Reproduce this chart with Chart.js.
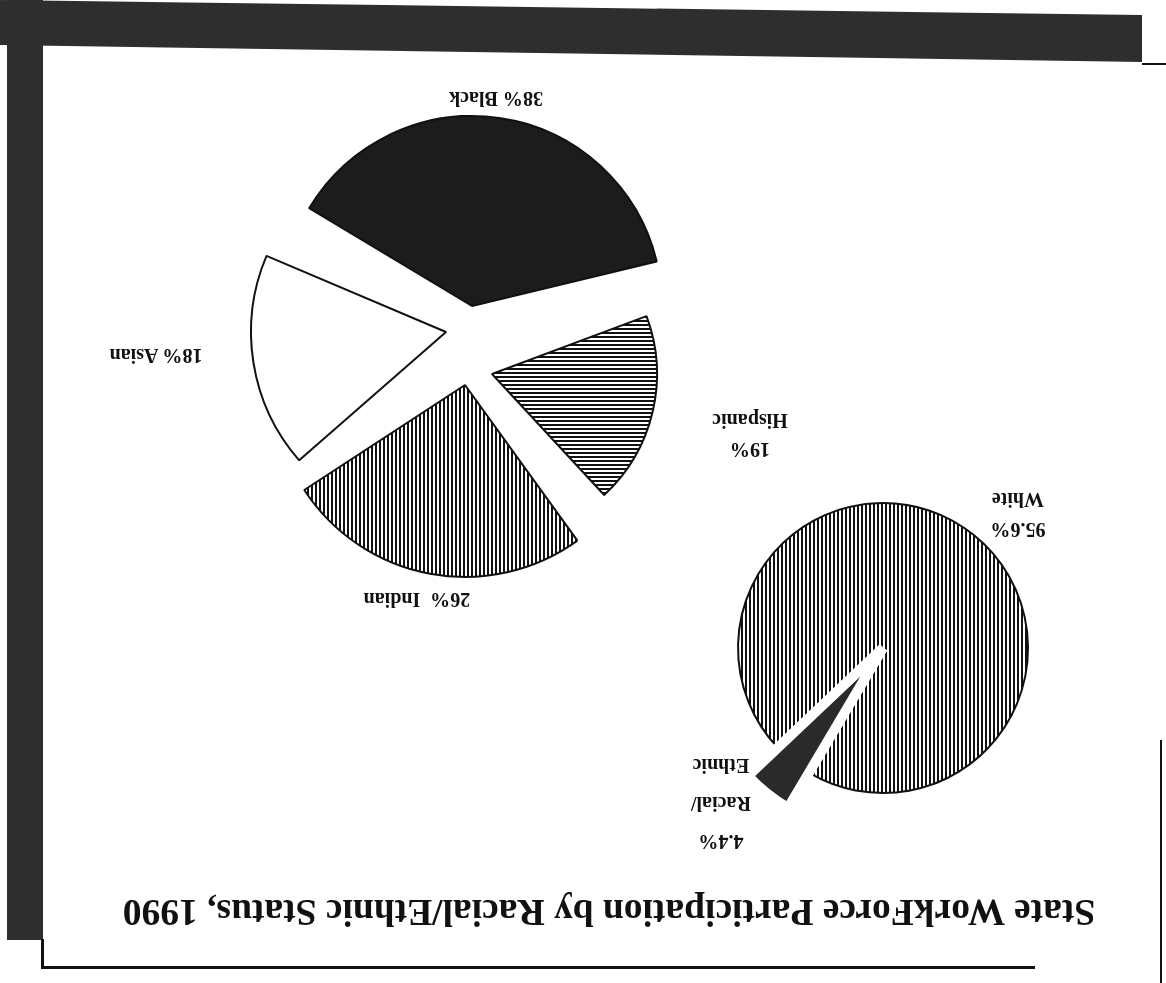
<!DOCTYPE html>
<html>
<head>
<meta charset="utf-8">
<script src="https://cdn.jsdelivr.net/npm/chart.js@4"></script>
<style>
  html, body { margin: 0; padding: 0; background: #fff; overflow: hidden; }
  #page {
    position: relative; width: 1166px; height: 983px; background: #fff;
    transform: rotate(180deg); transform-origin: 50% 50%;
    font-family: "Liberation Serif", "Times New Roman", serif; color: #111;
  }
  .shade { position: absolute; background: #2e2e2e; }
  .rule { position: absolute; background: #111; }
  canvas { position: absolute; }
  .lbl { position: absolute; font-weight: bold; font-size: 20px; white-space: nowrap; transform: translate(-50%, -50%); text-align: center; line-height: 1; }
  #title { position: absolute; left: 557px; top: 70px; transform: translate(-50%, -50%); font-weight: bold; font-size: 37.5px; white-space: nowrap; }
</style>
</head>
<body>
<div id="page">
  <div class="shade" style="left:1123px; top:43px; width:36px; height:940px;"></div>
  <div class="shade" style="left:24px; top:921px; width:1142px; height:62px; clip-path: polygon(0 0, 1142px 17px, 1142px 62px, 0 47px);"></div>
  <div class="rule" style="left:0px; top:918px; width:24px; height:2px;"></div>
  <div class="rule" style="left:131px; top:14px; width:993px; height:3px;"></div>
  <div class="rule" style="left:1122px; top:14px; width:3px; height:30px;"></div>
  <div class="rule" style="left:4px; top:0px; width:2px; height:243px;"></div>
  <div id="title"></div>
</div>
<script>
// valores (porcentaje de la fuerza laboral estatal)
const gruposNombres = ['Black', 'Hispanic', 'Indian', 'Asian'];
const gruposValores = [38, 19, 26, 18];
const totalNombres = ['Racial/Ethnic', 'White'];
const totalValores = [4.4, 95.6];
const titulo = 'State WorkForce Participation by Racial/Ethnic Status, 1990';

const pagina = document.getElementById('page');
document.getElementById('title').textContent = titulo;
const transparente = 'rgba(0,0,0,0)';

function rayas(ctx, dir, paso, grueso) {
  const c = document.createElement('canvas');
  c.width = paso; c.height = paso;
  const g = c.getContext('2d');
  g.fillStyle = '#fff';
  g.fillRect(0, 0, paso, paso);
  g.fillStyle = '#111';
  if (dir === 'v') g.fillRect(0, 0, grueso, paso);
  else g.fillRect(0, 0, paso, grueso);
  return ctx.createPattern(c, 'repeat');
}

// lienzo cuadrado centrado en (cx, cy) dentro de la pagina (sin girar)
function lienzo(cx, cy, lado) {
  const cv = document.createElement('canvas');
  cv.width = lado; cv.height = lado;
  cv.style.left = (cx - lado / 2) + 'px';
  cv.style.top = (cy - lado / 2) + 'px';
  pagina.appendChild(cv);
  return cv.getContext('2d');
}

function etiqueta(texto, x, y, extra) {
  const d = document.createElement('div');
  d.className = 'lbl';
  d.innerHTML = texto;
  d.style.left = x + 'px';
  d.style.top = y + 'px';
  if (extra) Object.assign(d.style, extra);
  pagina.appendChild(d);
}

function opciones(radio, giro) {
  return {
    responsive: false,
    animation: false,
    events: [],
    layout: { padding: 0 },
    radius: radio,
    rotation: giro,
    plugins: { legend: { display: false }, tooltip: { enabled: false } }
  };
}

// cada porcion del pastel grande va en su propio lienzo (pastel "explotado")
function porcion(indice, cx, cy, radio, giro, relleno) {
  const ctx = lienzo(cx, cy, 440);
  new Chart(ctx, {
    type: 'pie',
    data: {
      labels: gruposNombres,
      datasets: [{
        data: gruposValores,
        backgroundColor: gruposValores.map((v, i) => i === indice ? relleno(ctx) : transparente),
        borderColor: gruposValores.map((v, i) => i === indice ? '#111' : transparente),
        borderWidth: gruposValores.map((v, i) => i === indice ? 2 : 0)
      }]
    },
    options: opciones(radio, giro)
  });
}

porcion(0, 694, 677, 190, 121, () => '#1c1c1c');
porcion(1, 674, 609, 165, 114, ctx => rayas(ctx, 'h', 4, 2));
porcion(2, 701, 598, 192, 121, ctx => rayas(ctx, 'v', 4, 2));
porcion(3, 720, 651, 195, 113, () => '#fff');

// pastel pequeno: blanco con hueco para la cuna
const ctxTotal = lienzo(283, 335, 400);
new Chart(ctxTotal, {
  type: 'pie',
  data: {
    labels: totalNombres,
    datasets: [{
      data: totalValores,
      backgroundColor: [transparente, rayas(ctxTotal, 'v', 4, 2)],
      borderColor: [transparente, '#111'],
      borderWidth: [0, 2]
    }]
  },
  options: opciones(145, 30.7)
});

// cuna de grupos raciales/etnicos, mas larga que el pastel
const ctxCuna = lienzo(283, 335, 400);
new Chart(ctxCuna, {
  type: 'pie',
  data: {
    labels: totalNombres,
    datasets: [{
      data: totalValores,
      backgroundColor: ['#2a2a2a', transparente],
      borderColor: ['#fff', transparente],
      borderWidth: [10, 0]
    }]
  },
  options: opciones(186, 30.7)
});

// etiquetas
etiqueta(gruposValores[0] + '% ' + gruposNombres[0], 670, 884);
etiqueta(gruposValores[3] + '% ' + gruposNombres[3], 1010, 627);
etiqueta(gruposValores[2] + '%&nbsp;&nbsp;' + gruposNombres[2], 749, 383);
etiqueta(gruposValores[1] + '%<br>' + gruposNombres[1], 416, 548, { lineHeight: '29px' });
etiqueta(totalValores[1] + '%<br>' + totalNombres[1], 148, 468, { lineHeight: '30px' });
etiqueta(totalValores[0] + '%<br>Racial/<br>Ethnic', 445, 179, { lineHeight: '38px' });
</script>
</body>
</html>
